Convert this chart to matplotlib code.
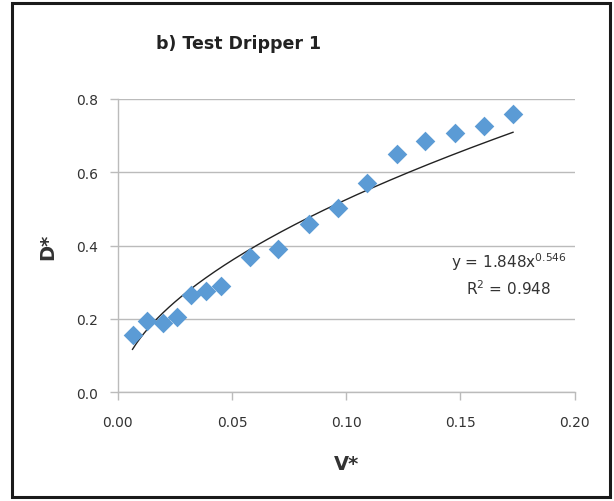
import matplotlib
matplotlib.use("Agg")
import matplotlib.pyplot as plt
import numpy as np
from matplotlib.patches import Rectangle

v_star = [0.0064, 0.0129, 0.0196, 0.0260, 0.0319, 0.0385, 0.0450, 0.0580, 0.0703,
          0.0835, 0.0963, 0.1090, 0.1220, 0.1344, 0.1475, 0.1605, 0.1730]
d_star = [0.156, 0.195, 0.190, 0.204, 0.265, 0.277, 0.290, 0.369, 0.390,
          0.458, 0.503, 0.571, 0.650, 0.686, 0.707, 0.727, 0.758]
fit_a, fit_b = 1.848, 0.546
x_ticks = [0.00, 0.05, 0.10, 0.15, 0.20]
y_ticks = [0.0, 0.2, 0.4, 0.6, 0.8]

fig = plt.figure(figsize=(6.14, 5.02), dpi=100)
ax = fig.add_axes([0.192, 0.2165, 0.744, 0.5845])

ax.scatter(v_star, d_star, marker='D', s=100, color='#5B9BD5', zorder=3, linewidths=0)
xf = np.linspace(min(v_star), max(v_star), 200)
ax.plot(xf, fit_a * xf ** fit_b, color='#222222', lw=1.0, zorder=2)

ax.set_xlim(0, 0.2)
ax.set_ylim(0, 0.8)
ax.set_xticks(x_ticks)
ax.set_yticks(y_ticks)
ax.set_xticklabels([f"{t:.2f}" for t in x_ticks])
ax.set_yticklabels([f"{t:.1f}" for t in y_ticks])
ax.grid(axis='y', color='#BBBBBB', lw=1.0)
ax.set_axisbelow(True)
for s in ['top', 'right']:
    ax.spines[s].set_visible(False)
for s in ['left', 'bottom']:
    ax.spines[s].set_color('#BBBBBB')
    ax.spines[s].set_linewidth(1.0)
ax.tick_params(axis='both', colors='#BBBBBB', labelcolor='#333333', labelsize=10,
               length=6, width=1.0, direction='out')
ax.tick_params(axis='x', pad=10)
ax.tick_params(axis='y', pad=8)

ax.set_xlabel("V*", fontsize=14, fontweight='bold', color='#333333', labelpad=18)
ax.set_ylabel("D*", fontsize=14, fontweight='bold', color='#333333', labelpad=14)
fig.text(0.388, 0.912, "b) Test Dripper 1", fontsize=12.5, fontweight='bold',
         color='#222222', ha='center', va='center')

ax.text(0.855, 0.448, r"y = 1.848x$^{0.546}$", transform=ax.transAxes, fontsize=11,
        color='#333333', ha='center', va='center')
ax.text(0.855, 0.358, r"R$^{2}$ = 0.948", transform=ax.transAxes, fontsize=11,
        color='#333333', ha='center', va='center')

fig.patches.append(Rectangle((12 / 614, 4 / 502), 598 / 614, 494 / 502,
                             transform=fig.transFigure, fill=False,
                             edgecolor='#1a1a1a', lw=2.2))

fig.savefig("out.png", dpi=100)
